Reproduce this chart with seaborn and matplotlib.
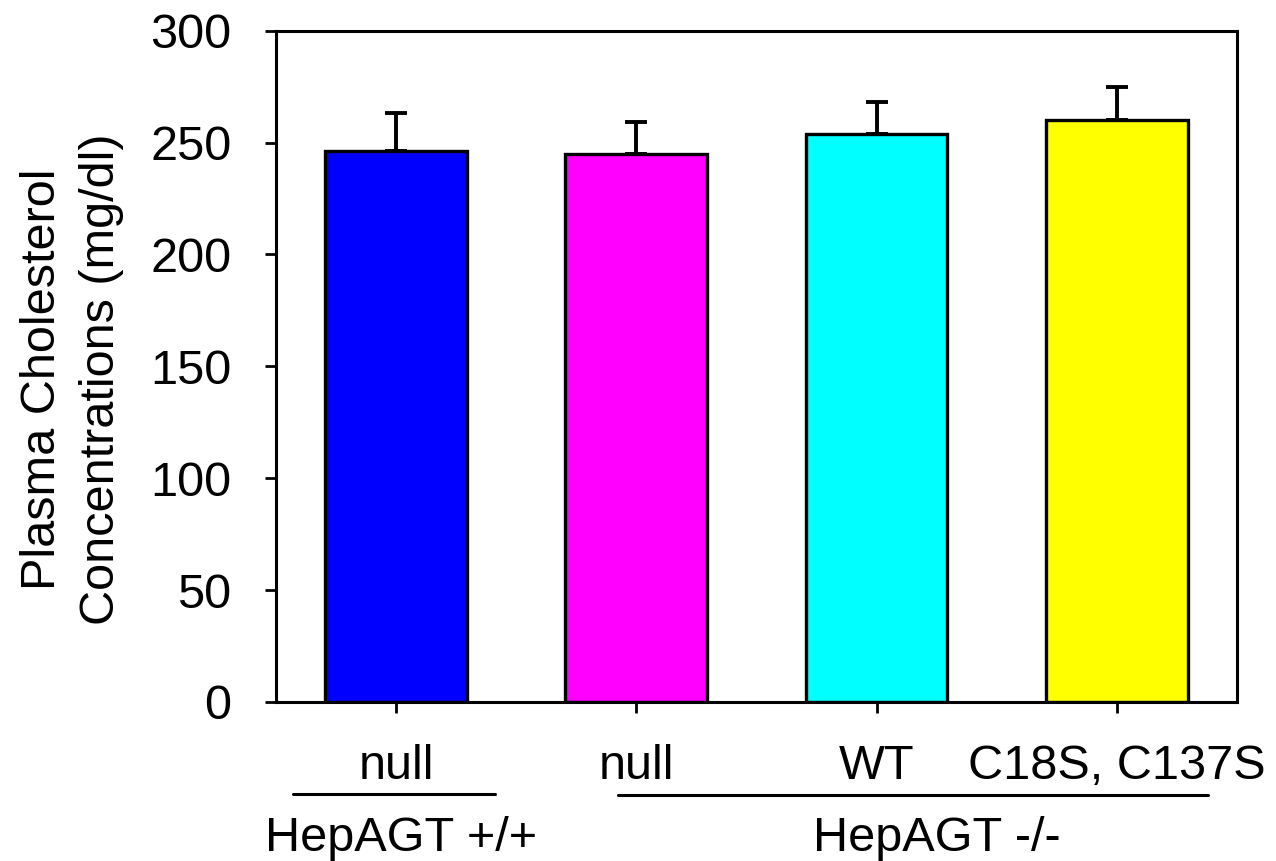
import numpy as np
import pandas as pd
import matplotlib
matplotlib.use("Agg")
import matplotlib.pyplot as plt
import matplotlib.transforms as mtransforms
import seaborn as sns

# data
groups = ["null (+/+)", "null (-/-)", "WT", "C18S, C137S"]
tick_labels = ["null", "null", "WT", "C18S, C137S"]
means = [246, 245, 254, 260]
sem = [17, 14, 14, 15]
bar_colors = ["#0000ff", "#ff00ff", "#00ffff", "#ffff00"]

df = pd.DataFrame({"group": groups, "chol": means})

sns.set_style("white", {"text.color": "black", "axes.labelcolor": "black",
                        "xtick.color": "black", "ytick.color": "black",
                        "axes.edgecolor": "black"})
plt.rcParams["font.family"] = ["Liberation Sans", "DejaVu Sans"]

FS = 35

fig = plt.figure(figsize=(12.76, 8.61), dpi=100)
ax = fig.add_axes([0.2163, 0.1847, 0.7531, 0.7797])

sns.barplot(data=df, x="group", y="chol", hue="group", palette=bar_colors,
            order=groups, width=0.59, saturation=1, edgecolor="black",
            linewidth=2.4, legend=False, ax=ax, zorder=2)

ax.errorbar(np.arange(len(groups)), means, yerr=[np.zeros(len(sem)), sem],
            fmt="none", ecolor="black", elinewidth=2.8, capsize=8,
            capthick=2.8, zorder=1)

ax.set_xlim(-0.5, 3.5)
ax.set_ylim(0, 300)
ax.set_yticks(range(0, 301, 50))
ax.set_xticks(range(len(groups)))
ax.set_xticklabels(tick_labels)
ax.set_xlabel("")
ax.set_ylabel("Plasma Cholesterol\nConcentrations (mg/dl)", fontsize=FS,
              linespacing=1.4, va="center")
ax.yaxis.set_label_coords(-0.212, 0.48)

for s in ax.spines.values():
    s.set_linewidth(2.2)
    s.set_color("black")

ax.tick_params(axis="y", direction="out", length=8, width=2, labelsize=FS,
               left=True, pad=24)
ax.tick_params(axis="x", direction="out", length=8, width=2, labelsize=FS,
               bottom=True, pad=22)

# group annotations below the axis
trans = mtransforms.blended_transform_factory(ax.transData, ax.transAxes)
ax.plot([-0.43, 0.41], [-0.137, -0.137], color="black", lw=2.2,
        transform=trans, clip_on=False, solid_capstyle="round")
ax.plot([0.925, 3.38], [-0.138, -0.138], color="black", lw=2.2,
        transform=trans, clip_on=False, solid_capstyle="round")
ax.text(0.02, -0.203, "HepAGT +/+", ha="center", va="center", fontsize=FS,
        transform=trans)
ax.text(2.25, -0.203, "HepAGT -/-", ha="center", va="center", fontsize=FS,
        transform=trans)

fig.savefig("out.png", dpi=100)
